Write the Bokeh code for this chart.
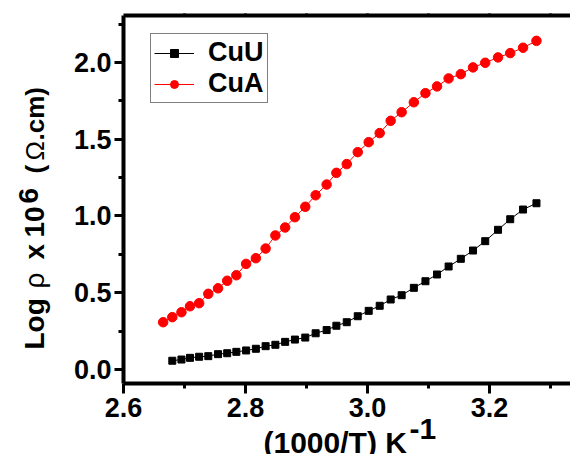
import math
from bokeh.plotting import figure
from bokeh.models import Range1d, FixedTicker, LinearAxis, Legend, LegendItem
from bokeh.core.properties import value
from bokeh.embed import file_html
from bokeh.resources import INLINE

# ---- data ----
cua_x = [2.665, 2.680, 2.695, 2.709, 2.724, 2.739, 2.755, 2.770, 2.785, 2.801,
         2.817, 2.833, 2.849, 2.865, 2.881, 2.898, 2.915, 2.933, 2.949, 2.966,
         2.984, 3.002, 3.020, 3.038, 3.056, 3.076, 3.095, 3.114, 3.133, 3.153,
         3.173, 3.193, 3.214, 3.234, 3.255, 3.277]
cua_y = [0.308, 0.341, 0.373, 0.412, 0.432, 0.493, 0.529, 0.578, 0.614, 0.688,
         0.725, 0.788, 0.873, 0.925, 0.992, 1.060, 1.135, 1.205, 1.281, 1.338,
         1.416, 1.481, 1.540, 1.620, 1.676, 1.741, 1.800, 1.844, 1.896, 1.924,
         1.968, 1.998, 2.033, 2.061, 2.096, 2.141]
cuu_x = [2.680, 2.695, 2.709, 2.724, 2.739, 2.755, 2.770, 2.785, 2.801,
         2.817, 2.833, 2.849, 2.865, 2.881, 2.898, 2.915, 2.933, 2.949, 2.966,
         2.984, 3.002, 3.020, 3.038, 3.056, 3.076, 3.095, 3.114, 3.133, 3.153,
         3.173, 3.193, 3.214, 3.234, 3.255, 3.277]
cuu_y = [0.057, 0.065, 0.076, 0.083, 0.087, 0.100, 0.106, 0.115, 0.124, 0.135,
         0.152, 0.161, 0.180, 0.195, 0.208, 0.236, 0.257, 0.285, 0.308, 0.347,
         0.382, 0.415, 0.456, 0.484, 0.532, 0.575, 0.619, 0.671, 0.721, 0.775,
         0.836, 0.910, 0.979, 1.042, 1.083]

series_names = ["CuU", "CuA"]
x_ticks = [2.6, 2.8, 3.0, 3.2]
x_tick_labels = ["2.6", "2.8", "3.0", "3.2"]
x_minor = [2.7, 2.9, 3.1, 3.3]
y_ticks = [0.0, 0.5, 1.0, 1.5, 2.0]
y_tick_labels = ["0.0", "0.5", "1.0", "1.5", "2.0"]
y_minor = [0.25, 0.75, 1.25, 1.75, 2.25]
top_ticks = [2.7, 2.8, 2.9, 3.0, 3.1, 3.2, 3.3]

FONT = "Liberation Sans"
W, H = 570, 454

# ---------------- main chart ----------------
p = figure(width=W, height=H, x_range=Range1d(2.6, 3.3328), y_range=Range1d(-0.0912, 2.306),
           output_backend="svg", toolbar_location=None,
           min_border_left=123, min_border_right=0, min_border_top=15, min_border_bottom=71)
p.outline_line_color = None
p.grid.visible = False
p.background_fill_color = "white"
p.border_fill_color = "white"

p.xaxis.ticker = FixedTicker(ticks=x_ticks, minor_ticks=x_minor)
p.xaxis.major_label_overrides = {t: l for t, l in zip(x_ticks, x_tick_labels)}
p.yaxis.ticker = FixedTicker(ticks=y_ticks, minor_ticks=y_minor)
p.yaxis.major_label_overrides = {t: l for t, l in zip(y_ticks, y_tick_labels)}

for ax in list(p.xaxis) + list(p.yaxis):
    ax.axis_line_width = 4
    ax.axis_line_color = "black"
    ax.major_tick_line_width = 3
    ax.minor_tick_line_width = 3
    ax.major_tick_in = 0
    ax.minor_tick_in = 0
    ax.major_tick_out = 10
    ax.minor_tick_out = 5
    ax.major_label_text_font = FONT
    ax.major_label_text_font_style = "bold"
    ax.major_label_text_font_size = "27px"
    ax.major_label_text_color = "black"
p.xaxis.major_label_standoff = 4
p.yaxis.major_label_standoff = 3
p.yaxis.major_tick_out = 9

top = LinearAxis(ticker=FixedTicker(ticks=top_ticks, minor_ticks=[]),
                 major_label_overrides={t: "" for t in top_ticks},
                 major_label_text_font_size="1px", axis_line_width=4,
                 major_tick_out=2, major_tick_in=0, minor_tick_out=0,
                 major_tick_line_width=3, major_label_standoff=0)
p.add_layout(top, "above")

l1 = p.line(cuu_x, cuu_y, line_color="black", line_width=1)
s1 = p.scatter(cuu_x, cuu_y, marker="square", size=7, fill_color="black", line_color="black")
l2 = p.line(cua_x, cua_y, line_color="#ff0000", line_width=1)
s2 = p.scatter(cua_x, cua_y, marker="circle", size=9.5, fill_color="#ff0000", line_color="#ff0000")

legend = Legend(items=[LegendItem(label=series_names[0], renderers=[l1, s1]),
                       LegendItem(label=series_names[1], renderers=[l2, s2])],
                location=(27, 280), orientation="vertical",
                label_text_font=FONT, label_text_font_style="bold",
                label_text_font_size="27px", label_text_color="black",
                glyph_width=40, glyph_height=20, label_standoff=14,
                padding=3, spacing=0, margin=0,
                border_line_color="black", border_line_width=1,
                background_fill_color="white", background_fill_alpha=1.0)
p.add_layout(legend)

# ---------------- transparent overlay carrying the axis titles ----------------
# (pixel space of the page: x to the right, y downwards)
q = figure(width=W, height=H, x_range=Range1d(0, W), y_range=Range1d(H, 0),
           output_backend="svg", toolbar_location=None,
           x_axis_location=None, y_axis_location=None,
           min_border_left=0, min_border_right=0, min_border_top=0, min_border_bottom=0,
           styles={"position": "absolute", "top": "0px", "left": "0px"})
q.grid.visible = False
q.outline_line_color = None
q.background_fill_alpha = 0
q.border_fill_alpha = 0

def lab(text, px, py, size, style="bold", angle=0.0):
    q.text(x=[px], y=[py], text=[text], angle=angle,
           text_font=value(FONT), text_font_size=value(size), text_font_style=style,
           text_color="black", text_align="left", text_baseline="alphabetic")

V = math.pi / 2
BX = 34   # baseline column of the rotated y title
# y-axis title: Log ρ x 10^6 (Ω.cm)
lab("Log", BX, 349, "28px", angle=V)
lab("\u03c1", BX, 288, "28px", style="normal", angle=V)
lab("x", BX, 259, "28px", angle=V)
lab("10", BX, 237, "28px", angle=V)
lab("6", BX - 6, 203, "28px", angle=V)
lab("(", BX, 173, "26px", angle=V)
lab("\u03a9", BX, 160, "26px", style="normal", angle=V)
lab(".cm)", BX, 140, "26px", angle=V)

# x-axis title: (1000/T) K^-1
lab("(1000/T) K", 263, 442, "30px")
lab("-1", 409, 428, "30px")

open("out.html", "w").write(file_html([p, q], INLINE))
